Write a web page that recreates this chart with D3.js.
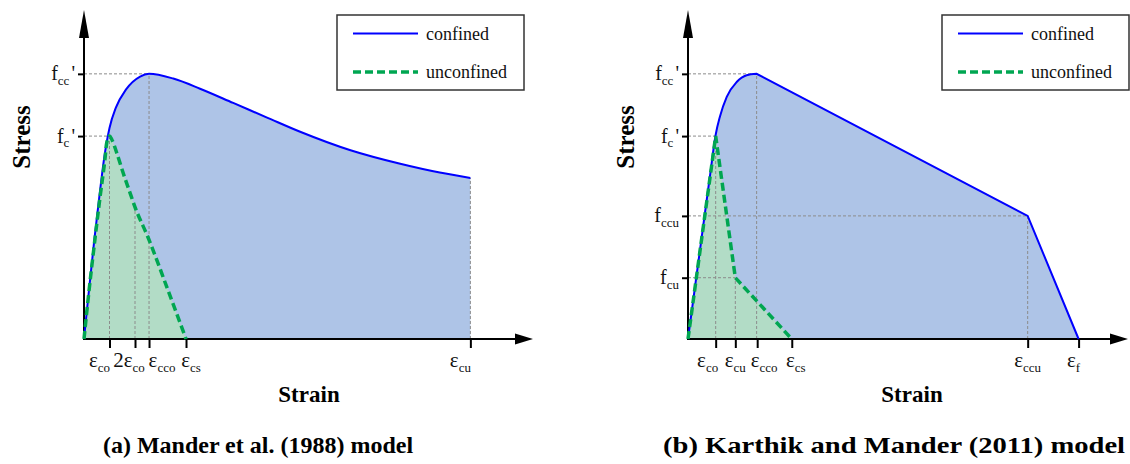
<!DOCTYPE html>
<html>
<head>
<meta charset="utf-8">
<script src="https://cdn.jsdelivr.net/npm/d3@7"></script>
<style>
  body { margin: 0; background: #fff; }
  svg { display: block; font-family: "Liberation Serif", "Times New Roman", serif; }
</style>
</head>
<body>
<svg id="chart" width="1130" height="464"></svg>
<script>
// ---- (a) Mander et al. (1988) ----
const manderConfinedStrain = [0, 0.0004, 0.0008, 0.0012, 0.0016, 0.002, 0.0025, 0.0033, 0.0044, 0.0051, 0.007, 0.0091, 0.0117, 0.0144, 0.017, 0.0209, 0.0248, 0.0279, 0.0303];
const manderConfinedStress = [0, 7.4, 14.5, 21.0, 27.0, 31.2, 34.2, 36.9, 38.8, 39.2, 38.5, 37.0, 34.9, 32.7, 30.6, 27.9, 25.9, 24.6, 23.8];
const manderUnconfinedStrain = [0, 0.00034, 0.00073, 0.00126, 0.00165, 0.00178, 0.002, 0.00218, 0.00257, 0.00308, 0.00361, 0.004, 0.00505, 0.00649, 0.008];
const manderUnconfinedStress = [0, 6.2, 12.7, 21.0, 26.7, 29.0, 30.0, 29.5, 27.5, 24.5, 21.6, 19.5, 14.9, 7.7, 0];
const manderStrainTicks = [0.002, 0.004, 0.0051, 0.008, 0.0303];
const manderStrainLabels = ["ε_co", "2ε_co", "ε_cco", "ε_cs", "ε_cu"];
const manderStressTicks = [30, 39.2];
const manderStressLabels = ["f_c'", "f_cc'"];
// guide points: [strain, stress, horizontal guide?, vertical guide?]
const manderGuides = [[0.0051, 39.2, true, true], [0.002, 30, true, true], [0.004, 19.5, false, true], [0.0303, 23.8, false, true]];

// ---- (b) Karthik and Mander (2011) ----
const karthikRiseStrain = [0, 0.001, 0.0016, 0.002, 0.00231, 0.0028, 0.00352, 0.00424, 0.00496];
const karthikRiseStress = [0, 15.2, 24.3, 30.2, 32.9, 35.8, 38.0, 39.0, 39.2];
const karthikFallStrain = [0.00496, 0.02455, 0.02823];
const karthikFallStress = [39.2, 18.2, 0];
const karthikUnconfinedStrain = [0, 0.002, 0.00342, 0.0075];
const karthikUnconfinedStress = [0, 30, 9.06, 0];
const karthikStrainTicks = [0.002, 0.00342, 0.005, 0.0075, 0.02455, 0.02823];
const karthikStrainLabels = ["ε_co", "ε_cu", "ε_cco", "ε_cs", "ε_ccu", "ε_f"];
const karthikStressTicks = [9.06, 18.2, 30, 39.2];
const karthikStressLabels = ["f_cu", "f_ccu", "f_c'", "f_cc'"];
const karthikGuides = [[0.00496, 39.2, true, true], [0.002, 30, true, true], [0.00342, 9.06, true, true], [0.02455, 18.2, true, true]];

const legendLabels = ["confined", "unconfined"];

const blueFill = "#aec4e7";
const greenFill = "#b2dcc6";
const blueLine = "#0000ff";
const greenLine = "#00a651";
const guideColor = "#8c8c8c";

const svg = d3.select("#chart");
const defs = svg.append("defs");
defs.append("marker").attr("id", "arrowX")
  .attr("markerUnits", "userSpaceOnUse").attr("markerWidth", 20).attr("markerHeight", 12)
  .attr("viewBox", "0 -6 20 12").attr("refX", 0).attr("refY", 0).attr("orient", "auto")
  .append("path").attr("d", "M0,-5.5L18,0L0,5.5Z").attr("fill", "#000");
defs.append("marker").attr("id", "arrowY")
  .attr("markerUnits", "userSpaceOnUse").attr("markerWidth", 30).attr("markerHeight", 12)
  .attr("viewBox", "0 -6 30 12").attr("refX", 0).attr("refY", 0).attr("orient", "auto")
  .append("path").attr("d", "M0,-5L28,0L0,5Z").attr("fill", "#000");

const zip = (xs, ys) => xs.map((v, i) => [v, ys[i]]);

function splitLabel(s) {
  const m = s.match(/^([^_]*)_([^']*)('?)$/);
  return { base: m[1], sub: m[2], tail: m[3] };
}

function richText(g, label, x, y, anchor, sizes) {
  const p = splitLabel(label);
  const t = g.append("text").attr("x", x).attr("y", y).attr("text-anchor", anchor).attr("fill", "#111");
  t.append("tspan").attr("font-size", sizes[0]).text(p.base);
  t.append("tspan").attr("font-size", sizes[1]).attr("dy", 4.5).text(p.sub);
  if (p.tail) t.append("tspan").attr("font-size", sizes[0]).attr("dy", -4.5).attr("dx", 2).text(p.tail);
}

function drawPanel(o) {
  const g = svg.append("g");
  const x = o.x, y = o.y;
  const smooth = d3.line().x(d => x(d[0])).y(d => y(d[1])).curve(d3.curveMonotoneX);
  const straight = d3.line().x(d => x(d[0])).y(d => y(d[1]));

  let confined = smooth(o.confined);
  if (o.confinedTail) confined += straight(o.confinedTail).replace(/^M/, "L");
  const unconfined = o.unconfinedSmooth ? smooth(o.unconfined) : straight(o.unconfined);
  const close = `V${y(0)}H${x(0)}Z`;

  g.append("path").attr("d", confined + close).attr("fill", blueFill);
  g.append("path").attr("d", unconfined + close).attr("fill", greenFill);

  // dashed guides to the axes
  o.guides.forEach(([sx, sy, h, v]) => {
    if (h) g.append("line").attr("x1", x(0)).attr("x2", x(sx)).attr("y1", y(sy)).attr("y2", y(sy));
    if (v) g.append("line").attr("x1", x(sx)).attr("x2", x(sx)).attr("y1", y(0)).attr("y2", y(sy));
  });
  g.selectAll("line").attr("stroke", guideColor).attr("stroke-width", 1).attr("stroke-dasharray", "3,2");

  // axes
  const xAxis = g.append("g").attr("transform", `translate(0,${y(0)})`)
    .call(d3.axisBottom(x).tickValues(o.strainTicks).tickFormat("").tickSize(9).tickSizeOuter(0));
  const yAxis = g.append("g").attr("transform", `translate(${x(0)},0)`)
    .call(d3.axisLeft(y).tickValues(o.stressTicks).tickFormat("").tickSize(6).tickSizeOuter(0));
  [xAxis, yAxis].forEach(a => {
    a.select(".domain").remove();
    a.selectAll(".tick line").attr("stroke", "#000").attr("stroke-width", 2);
  });
  g.append("line").attr("x1", x(0) - 1).attr("x2", x.range()[1]).attr("y1", y(0)).attr("y2", y(0))
    .attr("stroke", "#000").attr("stroke-width", 2).attr("marker-end", "url(#arrowX)");
  g.append("line").attr("x1", x(0)).attr("x2", x(0)).attr("y1", y(0) + 1).attr("y2", y.range()[1])
    .attr("stroke", "#000").attr("stroke-width", 2).attr("marker-end", "url(#arrowY)");

  // curves
  g.append("path").attr("d", confined).attr("fill", "none").attr("stroke", blueLine).attr("stroke-width", 2);
  g.append("path").attr("d", unconfined).attr("fill", "none").attr("stroke", greenLine)
    .attr("stroke-width", 3.5).attr("stroke-dasharray", "8,4");

  // tick labels
  o.strainTicks.forEach((v, i) => richText(g, o.strainLabels[i], x(v) + o.strainShift[i], y(0) + 28, "middle", [21, 13]));
  o.stressTicks.forEach((v, i) => richText(g, o.stressLabels[i], x(0) - 9, y(v) + 6.5, "end", [20, 13]));

  // axis titles
  g.append("text").attr("transform", `translate(${o.stressTitleX},137) rotate(-90)`)
    .attr("text-anchor", "middle").attr("dy", "0.35em")
    .attr("font-size", 25).attr("font-weight", "bold").text("Stress");
  g.append("text").attr("x", o.strainTitleX).attr("y", 402).attr("text-anchor", "middle")
    .attr("font-size", 23).attr("font-weight", "bold").text("Strain");
  const title = g.append("text").attr("x", o.titleX).attr("y", 453).attr("text-anchor", "middle")
    .attr("font-size", 24).attr("font-weight", "bold").text(o.title);
  if (o.titleWidth) title.attr("textLength", o.titleWidth).attr("lengthAdjust", "spacingAndGlyphs");

  // legend
  const lg = g.append("g").attr("transform", `translate(${o.legendX},15)`);
  lg.append("rect").attr("width", 187).attr("height", 75).attr("fill", "#fff")
    .attr("stroke", "#333").attr("stroke-width", 1.5);
  lg.append("line").attr("x1", 16).attr("x2", 81).attr("y1", 18.5).attr("y2", 18.5)
    .attr("stroke", blueLine).attr("stroke-width", 2);
  lg.append("line").attr("x1", 16).attr("x2", 81).attr("y1", 57).attr("y2", 57)
    .attr("stroke", greenLine).attr("stroke-width", 3.5).attr("stroke-dasharray", "8,4");
  lg.selectAll("text.key").data(legendLabels).enter().append("text").attr("class", "key")
    .attr("x", 89).attr("y", (d, i) => i ? 63 : 24.5).attr("font-size", 18).attr("fill", "#111").text(d => d);
}

drawPanel({
  x: d3.scaleLinear().domain([0, 0.0338]).range([84, 515]),
  y: d3.scaleLinear().domain([0, 44.5]).range([339, 38]),
  confined: zip(manderConfinedStrain, manderConfinedStress),
  unconfined: zip(manderUnconfinedStrain, manderUnconfinedStress),
  unconfinedSmooth: true,
  strainTicks: manderStrainTicks, strainLabels: manderStrainLabels,
  strainShift: [-10, -6, 13, 5, -10],
  stressTicks: manderStressTicks, stressLabels: manderStressLabels,
  guides: manderGuides,
  stressTitleX: 21, strainTitleX: 309, titleX: 258, legendX: 337,
  title: "(a) Mander et al. (1988) model"
});

drawPanel({
  x: d3.scaleLinear().domain([0, 0.0305]).range([688, 1110]),
  y: d3.scaleLinear().domain([0, 44.5]).range([339, 38]),
  confined: zip(karthikRiseStrain, karthikRiseStress),
  confinedTail: zip(karthikFallStrain, karthikFallStress),
  unconfined: zip(karthikUnconfinedStrain, karthikUnconfinedStress),
  unconfinedSmooth: false,
  strainTicks: karthikStrainTicks, strainLabels: karthikStrainLabels,
  strainShift: [-8, 0, 7, 4, 0, -5],
  stressTicks: karthikStressTicks, stressLabels: karthikStressLabels,
  guides: karthikGuides,
  stressTitleX: 625, strainTitleX: 912, titleX: 894, titleWidth: 462, legendX: 942,
  title: "(b) Karthik and Mander (2011) model"
});
</script>
</body>
</html>
